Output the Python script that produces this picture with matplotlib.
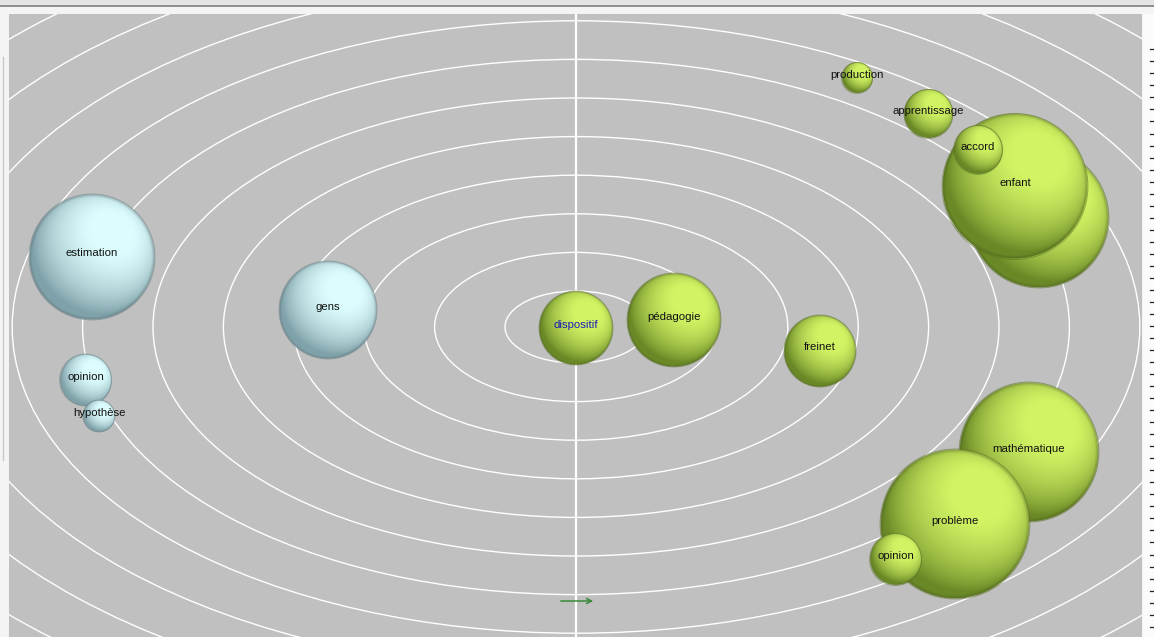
import numpy as np
import matplotlib
matplotlib.use("Agg")
import matplotlib.pyplot as plt
from matplotlib.patches import Ellipse, Rectangle, Circle
from matplotlib.lines import Line2D

plt.rcParams['font.family'] = ['Liberation Sans', 'DejaVu Sans']

# ---- data (map coordinates relative to the centre, y upward) ----
labels = ["estimation", "gens", "opinion", "hypothèse",
          "dispositif", "pédagogie", "freinet", "production", "apprentissage",
          "", "enfant", "accord", "mathématique", "problème", "opinion"]
x_pos = [-484, -248, -490.5, -477,
         0, 98, 244, 281, 352.5,
         463, 439, 402, 453, 379, 319.5]
y_pos = [70, 17, -53, -89,
         -1, 7, -24, 249, 213,
         109, 140.5, 177, -125, -197, -232.5]
radius = [63, 49, 26, 16,
          37, 47, 36, 15.5, 24.5,
          70, 73, 24.5, 70, 75, 26]
group = ["b", "b", "b", "b",
         "g", "g", "g", "g", "g",
         "g", "g", "g", "g", "g", "g"]

W, H = 1154, 637
fig = plt.figure(figsize=(W / 100, H / 100), dpi=100, facecolor="#f4f4f4")

def fx(px):
    return px / W

def fy(py):
    return 1 - py / H

# window chrome
fig.add_artist(Rectangle((0, fy(5)), 1, 5 / H, transform=fig.transFigure,
                         facecolor="#e4e4e4", edgecolor="none"))
fig.add_artist(Line2D([0, 1], [fy(6), fy(6)], transform=fig.transFigure,
                      color="#7c7c7c", lw=1.2))
fig.add_artist(Line2D([fx(3), fx(3)], [fy(57), fy(460)], transform=fig.transFigure,
                      color="#c8c8c8", lw=1.0))
fig.add_artist(Rectangle((fx(1143), 0), 11 / W, fy(14), transform=fig.transFigure,
                         facecolor="#fbfbfb", edgecolor="none"))
for ty in np.linspace(49.3, 626.7, 49):
    fig.add_artist(Line2D([fx(1149.5), fx(1154)], [fy(ty), fy(ty)],
                          transform=fig.transFigure, color="#222222", lw=0.9))

cx, cy = 576, 327
ax = fig.add_axes([fx(9), 0, (1142 - 9) / W, (637 - 14) / H])
ax.set_facecolor("#c0c0c0")
ax.set_xlim(9 - cx, 1142 - cx)
ax.set_ylim(cy - 637, cy - 14)
ax.set_aspect("auto")
for s in ax.spines.values():
    s.set_visible(False)
ax.set_xticks([])
ax.set_yticks([])

# concentric rings
for k in range(14):
    a = 71 + 70.4 * k
    b = 36 + 38.6 * k
    ax.add_patch(Ellipse((0, 0), 2 * a, 2 * b, fill=False, edgecolor="white",
                         lw=1.0, zorder=1))
ax.axvline(0, color="white", lw=1.6, zorder=1)

# sphere shading
def sphere_rgba(light, dark, n=240):
    u = np.linspace(-1, 1, n)
    U, V = np.meshgrid(u, u)
    d2 = U ** 2 + V ** 2
    Z = np.sqrt(np.clip(1 - d2, 0, None))
    L = np.array([0.35, 0.42, 0.84])
    L = L / np.linalg.norm(L)
    diff = np.clip(U * L[0] + V * L[1] + Z * L[2], 0, 1)
    t = np.clip(0.12 + 0.95 * diff, 0, 1) ** 1.1
    light = np.array(light) / 255.0
    dark = np.array(dark) / 255.0
    rgb = dark[None, None, :] * (1 - t[..., None]) + light[None, None, :] * t[..., None]
    rim = np.clip((np.sqrt(d2) - 0.95) / 0.05, 0, 1)
    rgb = rgb * (1 - 0.2 * rim[..., None])
    alpha = np.clip((1 - np.sqrt(d2)) * n * 0.5, 0, 1)
    return np.dstack([rgb, alpha])

colors = {
    "g": ((210, 244, 100), (95, 125, 32), "#5a7024"),
    "b": ((220, 253, 254), (118, 152, 160), "#6a8288"),
}
imgs = {g: sphere_rgba(colors[g][0], colors[g][1]) for g in colors}

for i, (x, y, r, g) in enumerate(zip(x_pos, y_pos, radius, group)):
    ax.imshow(imgs[g], extent=[x - r, x + r, y - r, y + r], origin="lower",
              interpolation="bilinear", zorder=2 + i * 0.01)
    ax.add_patch(Circle((x, y), r, fill=False, edgecolor=colors[g][2], lw=0.6,
                        alpha=0.55, zorder=2 + i * 0.01 + 0.005))

ax.set_xlim(9 - cx, 1142 - cx)
ax.set_ylim(cy - 637, cy - 14)

for lab, x, y in zip(labels, x_pos, y_pos):
    if not lab:
        continue
    col = "#1a1ab8" if lab == "dispositif" else "#111111"
    ax.text(x, y + 3.5, lab, ha="center", va="center", fontsize=8.2,
            color=col, zorder=10)

# small arrow at the bottom
ax.annotate("", xy=(20, -274), xytext=(-18, -274),
            arrowprops=dict(arrowstyle="->", color="#3a8a3a", lw=1.1,
                            mutation_scale=9), zorder=10)

fig.savefig("out.png", dpi=100, facecolor=fig.get_facecolor())
